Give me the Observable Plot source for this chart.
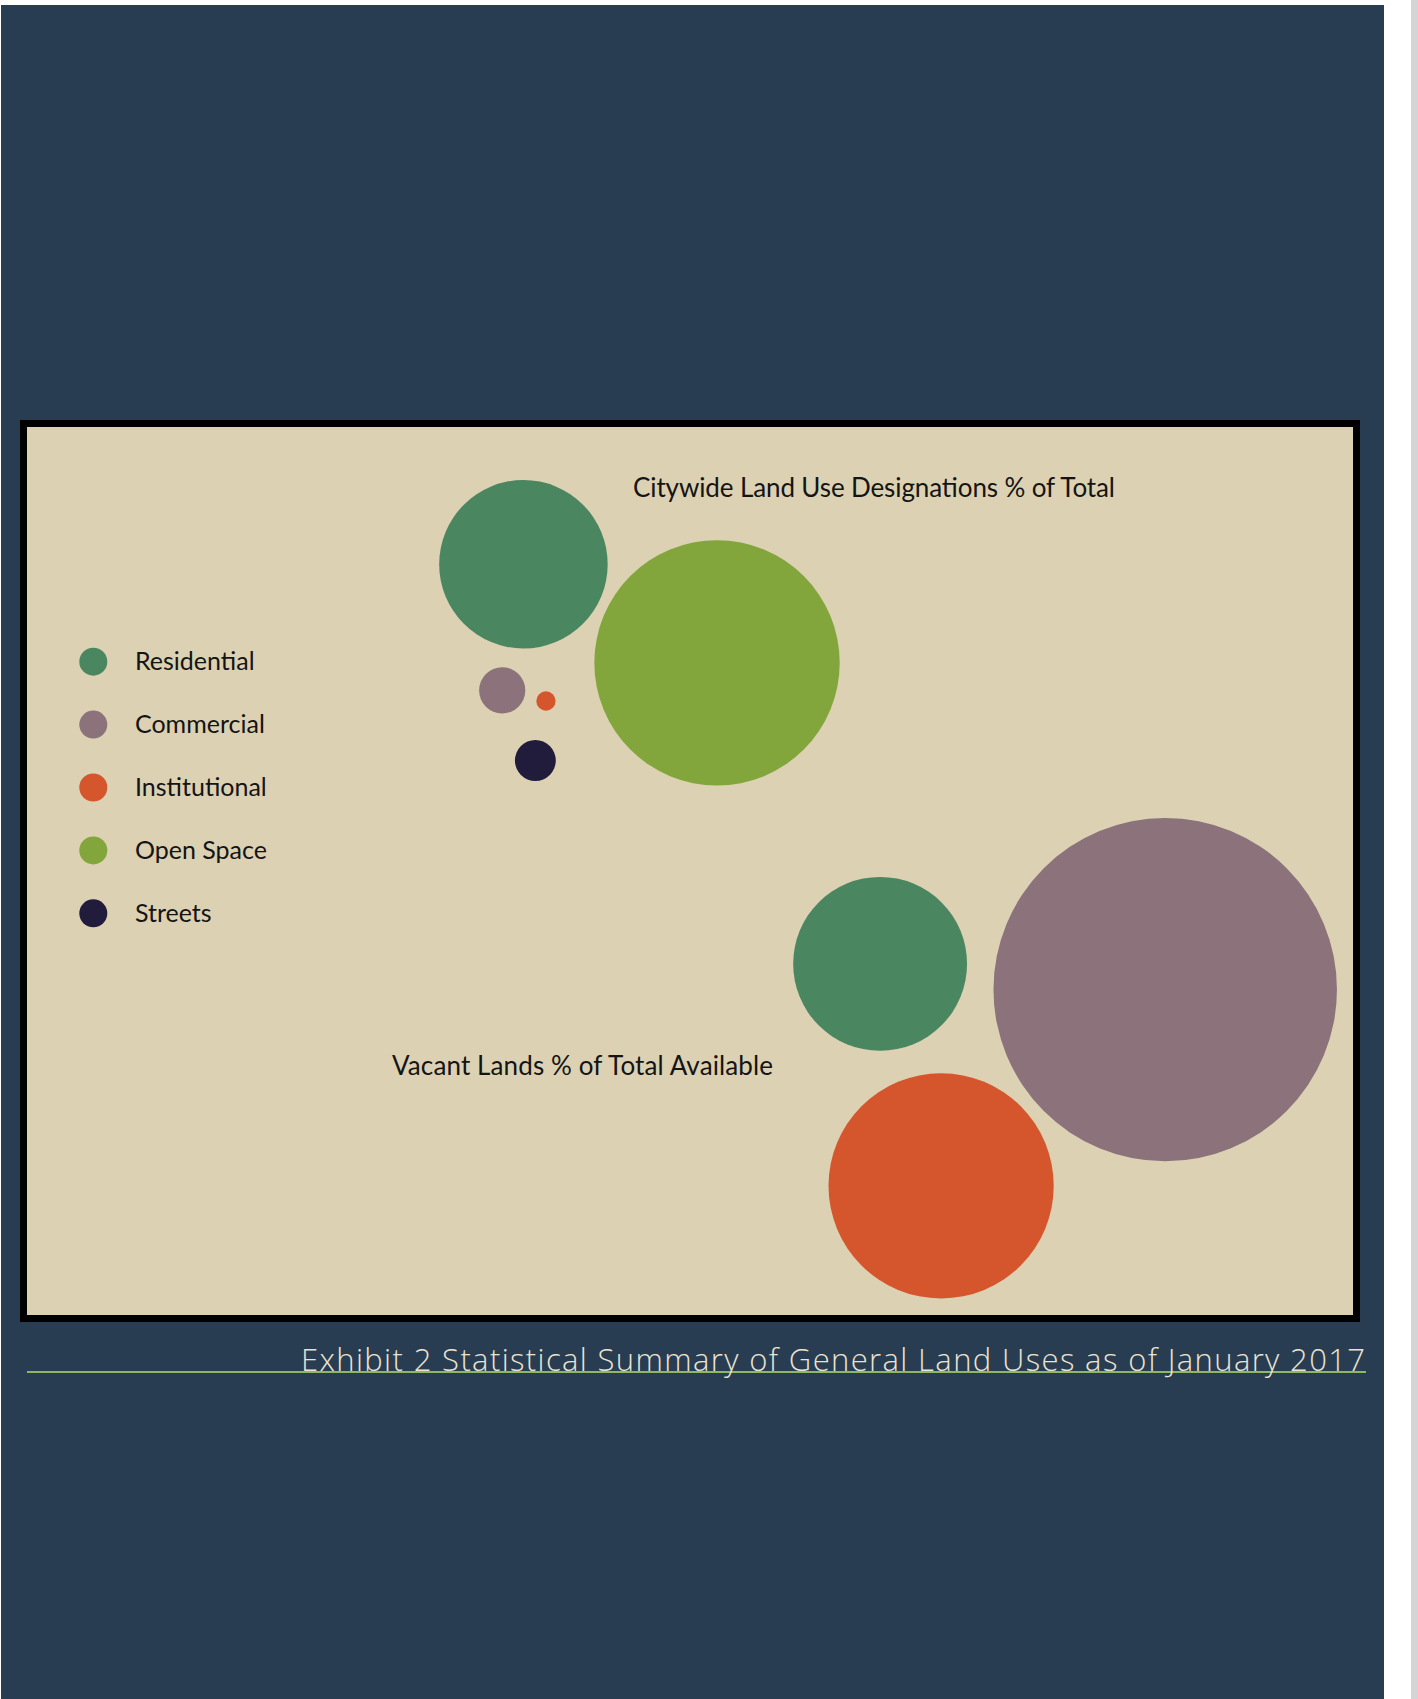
<!DOCTYPE html>
<html><head><meta charset="utf-8">
<script src="https://cdn.jsdelivr.net/npm/d3@7"></script>
<script src="https://cdn.jsdelivr.net/npm/@observablehq/plot@0.6"></script>
<style>
html,body{margin:0;padding:0;background:#fff;}
body{width:1418px;height:1699px;position:relative;overflow:hidden;font-family:Lato,"Noto Sans",sans-serif;}
#page{position:absolute;left:1px;top:5px;width:1383px;height:1694px;background:#283d52;}
#strip{position:absolute;left:1411px;top:0;width:7px;height:1699px;background:#d4d4d6;}
#frame{position:absolute;left:20px;top:420px;width:1340px;height:902px;background:#000;}
#panel{position:absolute;left:27px;top:427px;width:1326px;height:888px;background:#dcd1b3;overflow:hidden;}
#panel svg{position:absolute;left:0;top:0;}
#overlay{position:absolute;left:0;top:0;}
</style></head><body>
<div id="page"></div><div id="strip"></div><div id="frame"></div><div id="panel"></div>
<svg id="overlay" width="1418" height="1699"></svg>
<script>
// ---- data ----
const categories = ["Residential", "Commercial", "Institutional", "Open Space", "Streets"];
const palette = ["#4a8760", "#8b727b", "#d5562c", "#83a63c", "#211c3c"];

// Citywide land use designations, % of total (bubble chart X/Y values in chart units 0-100)
const citywidePct = [30.6, 2.3, 0.4, 64.9, 1.8];
const citywideX   = [37.4, 35.8, 39.1, 52.0, 38.3];
const citywideY   = [84.6, 70.4, 69.2, 73.5, 62.5];

// Vacant lands, % of total available
const vacantCategories = ["Residential", "Commercial", "Institutional"];
const vacantPct = [15.2, 59.3, 25.5];
const vacantX   = [64.3, 85.8, 68.9];
const vacantY   = [39.6, 36.7, 14.6];

const titleCity = "Citywide Land Use Designations % of Total";
const titleVacant = "Vacant Lands % of Total Available";
const caption = "Exhibit 2 Statistical Summary of General Land Uses as of January 2017";

// ---- build ----
const cityData = categories.map((c, i) => ({category: c, pct: citywidePct[i], x: citywideX[i], y: citywideY[i]}));
const vacantData = vacantCategories.map((c, i) => ({category: c, pct: vacantPct[i], x: vacantX[i], y: vacantY[i]}));

function bubbles(data, maxRadius) {
  return Plot.plot({
    width: 1326, height: 888, margin: 0,
    x: {domain: [0, 100], axis: null},
    y: {domain: [0, 100], axis: null},
    r: {type: "sqrt", domain: [0, 100], range: [0, maxRadius]},
    color: {domain: categories, range: palette},
    style: {background: "transparent", overflow: "visible"},
    marks: [Plot.dot(data, {x: "x", y: "y", r: "pct", fill: "category"})]
  });
}
const panel = document.getElementById("panel");
panel.append(bubbles(cityData, 152.3));
panel.append(bubbles(vacantData, 223.0));

const ov = d3.select("#overlay");
const ink = "#141414";
ov.append("text").attr("x", 633).attr("y", 497).attr("font-size", 26)
  .attr("textLength", 482).attr("lengthAdjust", "spacing").attr("fill", ink).text(titleCity);
ov.append("text").attr("x", 392).attr("y", 1075).attr("font-size", 26)
  .attr("textLength", 381).attr("lengthAdjust", "spacing").attr("fill", ink).text(titleVacant);

const lg = ov.append("g").attr("transform", "translate(93.3,661.7)");
categories.forEach((c, i) => {
  const g = lg.append("g").attr("transform", `translate(0,${i * 62.9})`);
  g.append("circle").attr("r", 14).attr("fill", palette[i]);
  g.append("text").attr("x", 41.7).attr("y", 8.5).attr("font-size", 25).attr("fill", ink).text(c);
});

ov.append("line").attr("x1", 27).attr("x2", 1366).attr("y1", 1372).attr("y2", 1372)
  .attr("stroke", "#8fb865").attr("stroke-width", 2);
ov.append("text").attr("x", 301).attr("y", 1371)
  .attr("font-family", "'Open Sans', sans-serif").attr("font-weight", 300).attr("font-size", 31)
  .attr("textLength", 1064).attr("lengthAdjust", "spacing").attr("fill", "#ebe3d0").text(caption);
</script></body></html>
